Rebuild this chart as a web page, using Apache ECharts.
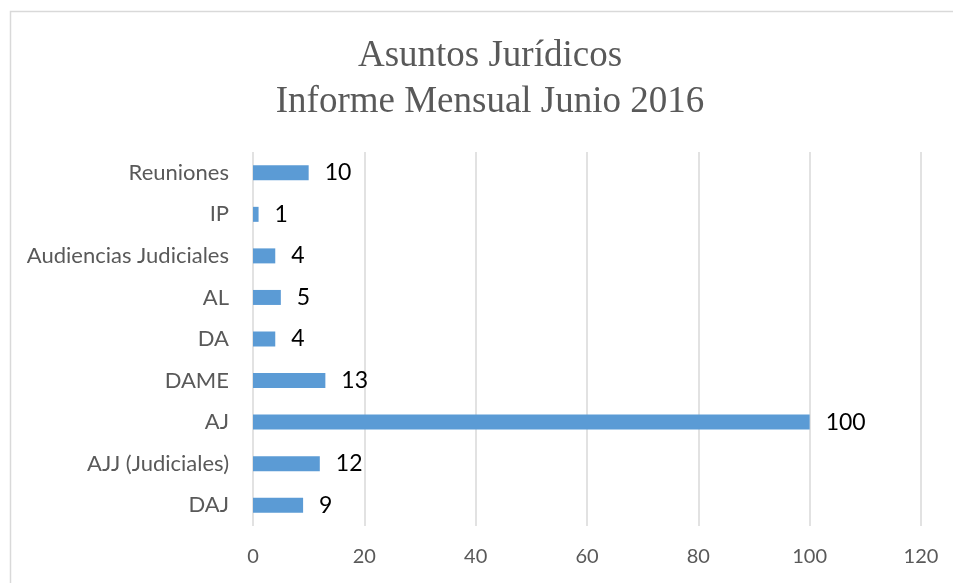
<!DOCTYPE html>
<html><head><meta charset="utf-8">
<script src="https://cdn.jsdelivr.net/npm/echarts@6/dist/echarts.min.js"></script>
<style>html,body{margin:0;padding:0;background:#fff}#c{width:953px;height:583px}</style>
</head><body><div id="c"></div>
<script>
const categories = ["DAJ","AJJ (Judiciales)","AJ","DAME","DA","AL","Audiencias Judiciales","IP","Reuniones"];
const values = [9,12,100,13,4,5,4,1,10];
const xTicks = [0,20,40,60,80,100,120];

const chart = echarts.init(document.getElementById('c'), null, {renderer:'canvas'});
chart.setOption({
  animation:false,
  graphic:[{type:'rect',shape:{x:10.5,y:11.5,width:1000,height:1000},style:{fill:'none',stroke:'#d9d9d9',lineWidth:1.5},silent:true}],
  title:{text:'Asuntos Jurídicos\nInforme Mensual Junio 2016',left:485,textAlign:'center',top:28,
    textStyle:{fontFamily:'Liberation Serif',fontSize:37,fontWeight:'normal',color:'#595959',lineHeight:46}},
  grid:{left:253,right:32,top:152,bottom:57,containLabel:false},
  xAxis:{type:'value',min:xTicks[0],max:xTicks[xTicks.length-1],interval:20,
    axisLine:{show:false},axisTick:{show:false},
    axisLabel:{fontFamily:'Lato',fontSize:20,color:'#595959',margin:21},
    splitLine:{show:true,lineStyle:{color:'#d9d9d9',width:1.5}}},
  yAxis:{type:'category',data:categories,
    axisLine:{show:false},axisTick:{show:false},
    axisLabel:{fontFamily:'Lato',fontSize:22,color:'#595959',margin:24}},
  series:[{type:'bar',data:values,barWidth:15,
    itemStyle:{color:'#5B9BD5'},
    label:{show:true,position:'right',distance:16,fontFamily:'Lato',fontSize:23,color:'#000'}}]
});
</script></body></html>
